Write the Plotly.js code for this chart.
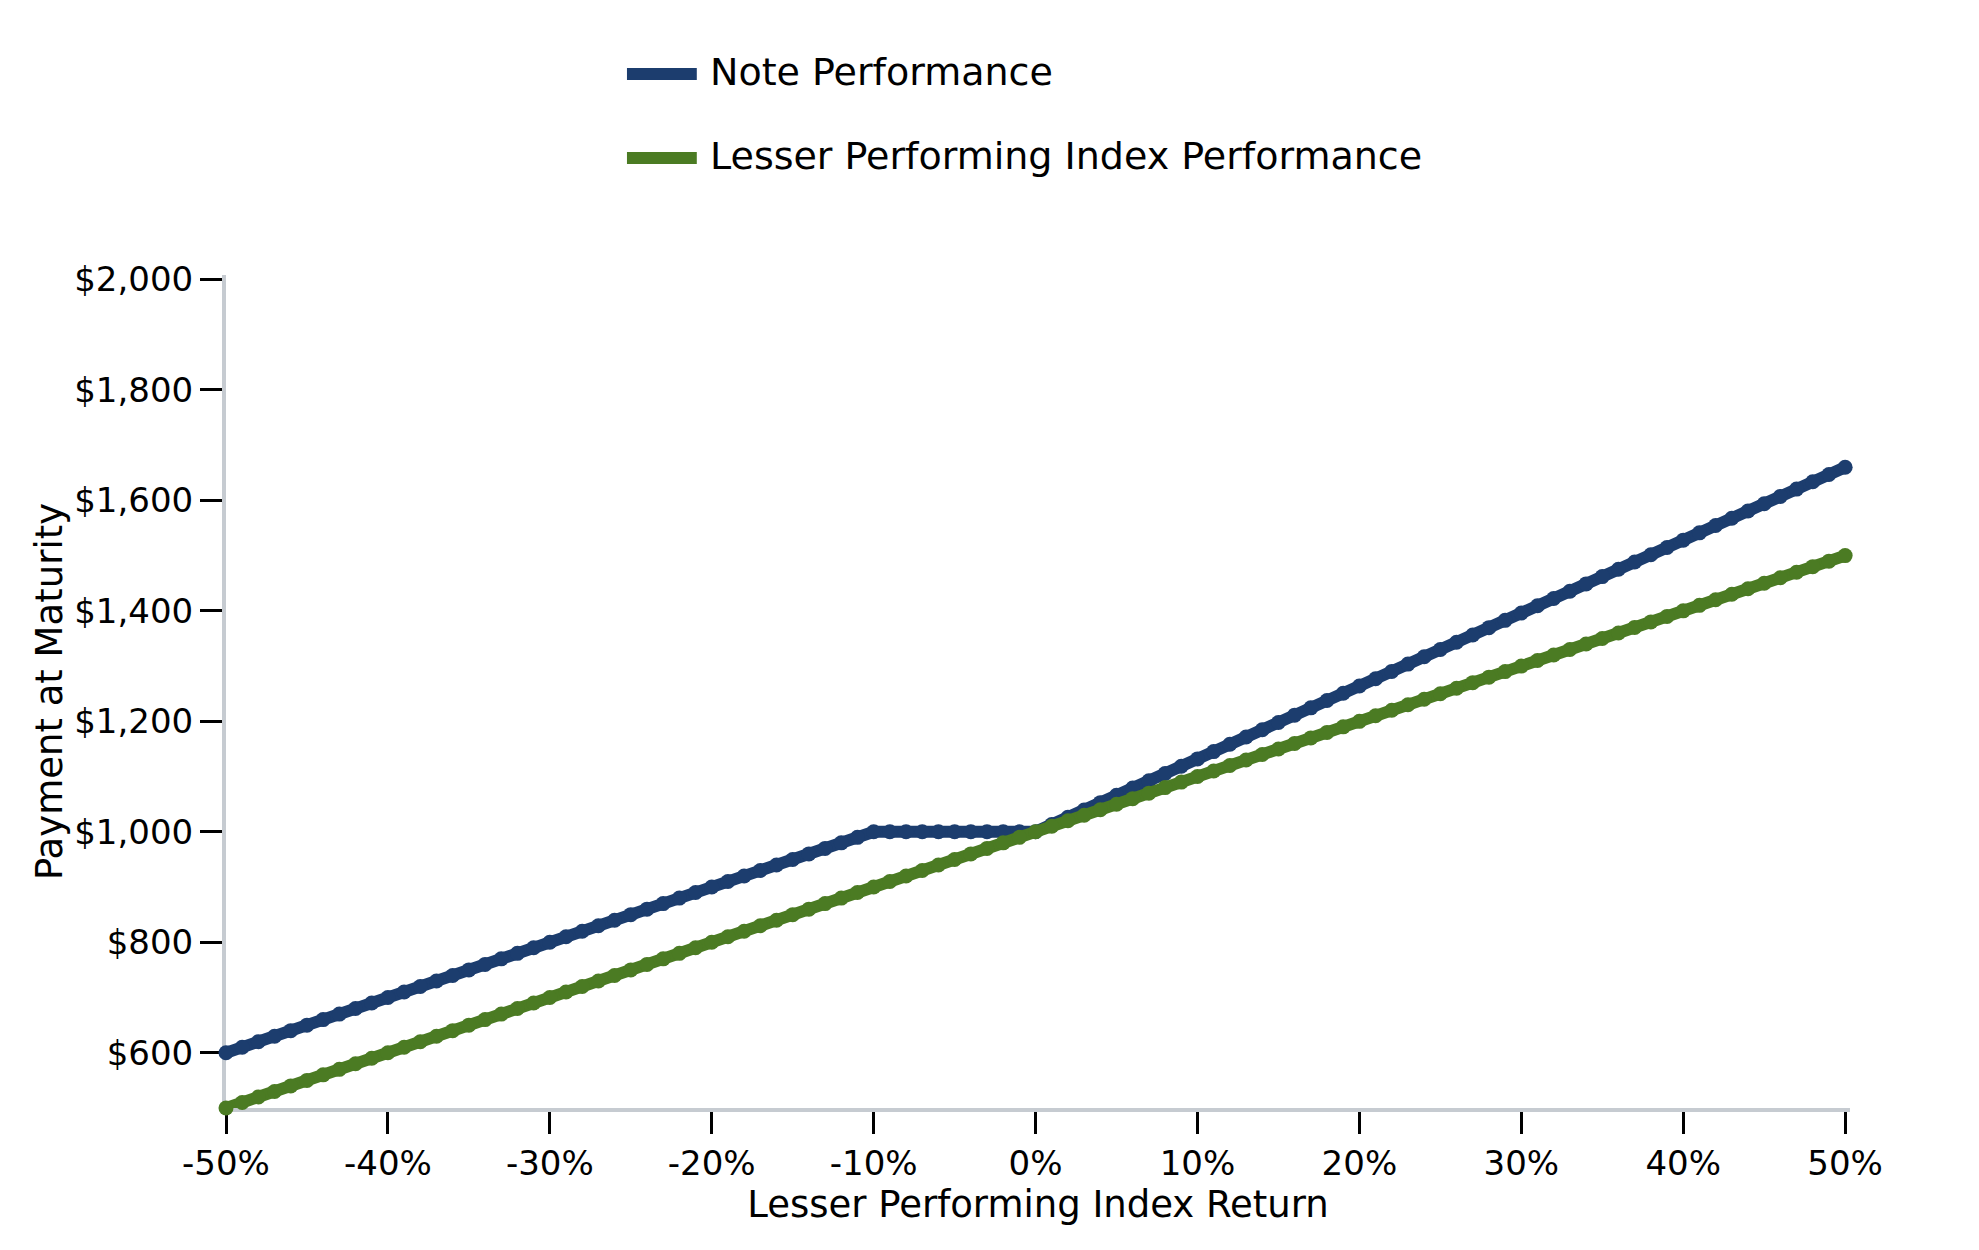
<!DOCTYPE html>
<html>
<head>
<meta charset="utf-8">
<script src="https://cdn.plot.ly/plotly-3.0.1.min.js"></script>
<style>
  html, body { margin: 0; padding: 0; background: #ffffff; }
  #chart { width: 1979px; height: 1250px; }
</style>
</head>
<body>
<div id="chart"></div>
<script>
// Lesser performing index return, in percent
var returnPct = [
	-50, -49, -48, -47, -46, -45, -44, -43, -42, -41,
	-40, -39, -38, -37, -36, -35, -34, -33, -32, -31,
	-30, -29, -28, -27, -26, -25, -24, -23, -22, -21,
	-20, -19, -18, -17, -16, -15, -14, -13, -12, -11,
	-10, -9, -8, -7, -6, -5, -4, -3, -2, -1,
	0, 1, 2, 3, 4, 5, 6, 7, 8, 9,
	10, 11, 12, 13, 14, 15, 16, 17, 18, 19,
	20, 21, 22, 23, 24, 25, 26, 27, 28, 29,
	30, 31, 32, 33, 34, 35, 36, 37, 38, 39,
	40, 41, 42, 43, 44, 45, 46, 47, 48, 49,
	50
];

// Payment at maturity of the note
var notePayment = [
	600, 610, 620, 630, 640, 650, 660, 670, 680, 690,
	700, 710, 720, 730, 740, 750, 760, 770, 780, 790,
	800, 810, 820, 830, 840, 850, 860, 870, 880, 890,
	900, 910, 920, 930, 940, 950, 960, 970, 980, 990,
	1000, 1000, 1000, 1000, 1000, 1000, 1000, 1000, 1000, 1000,
	1000, 1013.2, 1026.4, 1039.6, 1052.8, 1066, 1079.2, 1092.4, 1105.6, 1118.8,
	1132, 1145.2, 1158.4, 1171.6, 1184.8, 1198, 1211.2, 1224.4, 1237.6, 1250.8,
	1264, 1277.2, 1290.4, 1303.6, 1316.8, 1330, 1343.2, 1356.4, 1369.6, 1382.8,
	1396, 1409.2, 1422.4, 1435.6, 1448.8, 1462, 1475.2, 1488.4, 1501.6, 1514.8,
	1528, 1541.2, 1554.4, 1567.6, 1580.8, 1594, 1607.2, 1620.4, 1633.6, 1646.8,
	1660
];

// Value of $1,000 held in the lesser performing index
var indexPayment = [
	500, 510, 520, 530, 540, 550, 560, 570, 580, 590,
	600, 610, 620, 630, 640, 650, 660, 670, 680, 690,
	700, 710, 720, 730, 740, 750, 760, 770, 780, 790,
	800, 810, 820, 830, 840, 850, 860, 870, 880, 890,
	900, 910, 920, 930, 940, 950, 960, 970, 980, 990,
	1000, 1010, 1020, 1030, 1040, 1050, 1060, 1070, 1080, 1090,
	1100, 1110, 1120, 1130, 1140, 1150, 1160, 1170, 1180, 1190,
	1200, 1210, 1220, 1230, 1240, 1250, 1260, 1270, 1280, 1290,
	1300, 1310, 1320, 1330, 1340, 1350, 1360, 1370, 1380, 1390,
	1400, 1410, 1420, 1430, 1440, 1450, 1460, 1470, 1480, 1490,
	1500
];

var seriesNames = ['Note Performance', 'Lesser Performing Index Performance'];

var xTickVals = [-50, -40, -30, -20, -10, 0, 10, 20, 30, 40, 50];
var xTickText = ['-50%', '-40%', '-30%', '-20%', '-10%', '0%', '10%', '20%', '30%', '40%', '50%'];
var yTickVals = [600, 800, 1000, 1200, 1400, 1600, 1800, 2000];
var yTickText = ['$600', '$800', '$1,000', '$1,200', '$1,400', '$1,600', '$1,800', '$2,000'];

var blue = '#1c3d6e';
var green = '#4b7b23';

var noteTrace = {
	x: returnPct,
	y: notePayment,
	name: seriesNames[0],
	mode: 'lines+markers',
	cliponaxis: false,
	showlegend: false,
	line: { color: blue, width: 12 },
	marker: { color: blue, size: 15 }
};

var indexTrace = {
	x: returnPct,
	y: indexPayment,
	name: seriesNames[1],
	mode: 'lines+markers',
	cliponaxis: false,
	showlegend: false,
	line: { color: green, width: 12 },
	marker: { color: green, size: 15 }
};

// hand-made legend so the swatches are long like the original
var legendRows = [1.2413, 1.1405];
var legendShapes = [
	{ type: 'line', xref: 'paper', yref: 'paper', x0: 0.2469, x1: 0.2899,
	  y0: legendRows[0], y1: legendRows[0], line: { color: blue, width: 12 } },
	{ type: 'line', xref: 'paper', yref: 'paper', x0: 0.2469, x1: 0.2899,
	  y0: legendRows[1], y1: legendRows[1], line: { color: green, width: 12 } }
];
var legendText = [
	{ xref: 'paper', yref: 'paper', x: 0.2965, y: legendRows[0] + 0.002, xanchor: 'left', yanchor: 'middle',
	  text: seriesNames[0], showarrow: false, font: { family: 'DejaVu Sans', size: 38, color: '#000000' } },
	{ xref: 'paper', yref: 'paper', x: 0.2965, y: legendRows[1] + 0.002, xanchor: 'left', yanchor: 'middle',
	  text: seriesNames[1], showarrow: false, font: { family: 'DejaVu Sans', size: 38, color: '#000000' } }
];

var layout = {
	width: 1979,
	height: 1250,
	paper_bgcolor: '#ffffff',
	plot_bgcolor: '#ffffff',
	hovermode: false,
	showlegend: false,
	margin: { l: 226, r: 129, t: 275, b: 142 },
	font: { family: 'DejaVu Sans', size: 34, color: '#000000' },
	shapes: legendShapes,
	annotations: legendText,
	xaxis: {
		range: [-50, 50.3],
		showgrid: false,
		zeroline: false,
		showline: true,
		linecolor: '#c6cbd1',
		linewidth: 4,
		layer: 'below traces',
		ticks: 'outside',
		ticklen: 22,
		tickwidth: 3,
		tickcolor: '#000000',
		tickvals: xTickVals,
		ticktext: xTickText,
		tickfont: { family: 'DejaVu Sans', size: 34 },
		title: {
			text: 'Lesser Performing Index Return',
			font: { family: 'DejaVu Sans', size: 37 },
			standoff: 3
		}
	},
	yaxis: {
		range: [500, 2008],
		showgrid: false,
		zeroline: false,
		showline: true,
		linecolor: '#c6cbd1',
		linewidth: 4,
		layer: 'below traces',
		ticks: 'outside',
		ticklen: 22,
		tickwidth: 3,
		tickcolor: '#000000',
		tickvals: yTickVals,
		ticktext: yTickText,
		tickfont: { family: 'DejaVu Sans', size: 34 },
		title: {
			text: 'Payment at Maturity',
			font: { family: 'DejaVu Sans', size: 37 },
			standoff: 1
		}
	}
};

var data = [noteTrace, indexTrace];

Plotly.newPlot('chart', data, layout, { staticPlot: true, displayModeBar: false });
</script>
</body>
</html>
